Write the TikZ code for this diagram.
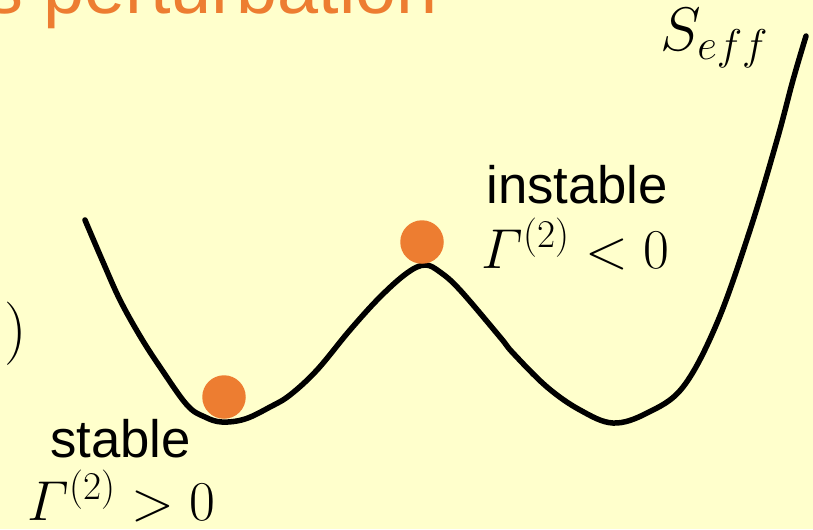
\documentclass[tikz,border=0pt]{standalone}
\usepackage{fix-cm}
\usepackage{amsmath}
\usepackage[no-math]{fontspec}
\setmainfont{Liberation Sans}
\usetikzlibrary{positioning}
\definecolor{slidebg}{RGB}{255,255,204}
\definecolor{ballorange}{RGB}{237,125,49}
\tikzset{
  % plain labels and formulas, placed on their baseline
  lbltext/.style={
    anchor=base west,
    inner sep=0pt,
    font=\fontsize{30}{36}\selectfont,
  },
  mathlbl/.style={lbltext, font=\fontsize{32}{38}\selectfont},
  titletext/.style={lbltext, text=ballorange, font=\fontsize{42}{50}\selectfont},
  ball/.style={circle, fill=ballorange, minimum size=0.87cm, inner sep=0pt},
  potline/.style={line width=0.11cm, line join=round, line cap=round},
}

\begin{document}
\begin{tikzpicture}[x=0.02cm, y=-0.02cm]
  \useasboundingbox (0,0) rectangle (813,529);
  \clip (0,0) rectangle (813,529);
  \fill[slidebg] (0,0) rectangle (813,529);

  % --- cut-off title and formula ---
  \node[titletext] (title) at (-14,13) {s perturbation};
  \node[mathlbl, font=\fontsize{36}{42}\selectfont] (paren) at (4,349) {$)$};

  % --- effective action ---
  \draw[potline] plot[smooth, tension=0.6] coordinates {
    (85,220) (103,262) (120,300) (140,336) (160,367) (187,405) (205,417)
    (222,422) (245,419) (270,407) (290,395) (317,370) (350,330) (380,297)
    (407,273) (425,265) (440,272) (460,290) (500,337) (513,353) (547,387)
    (580,410) (613,423) (647,413) (683,387) (717,323) (750,230)
    (777,140) (793,80) (806,36)};
  \node[mathlbl, font=\fontsize{35}{42}\selectfont] (seff) at (660,50) {$S_{eff}$};

  % --- balls ---
  \node[ball] (minball) at (224,397) {};
  \node[ball] (maxball) at (422,242) {};

  % --- labels ---
  \node[lbltext] (stable) at (50,457) {stable};
  \node[mathlbl] (stablecond) at (27,520) {$\varGamma^{(2)} > 0$};
  \node[lbltext] (instable) at (486,203) {instable};
  \node[mathlbl] (instablecond) at (481,268) {$\varGamma^{(2)} < 0$};
\end{tikzpicture}
\end{document}
